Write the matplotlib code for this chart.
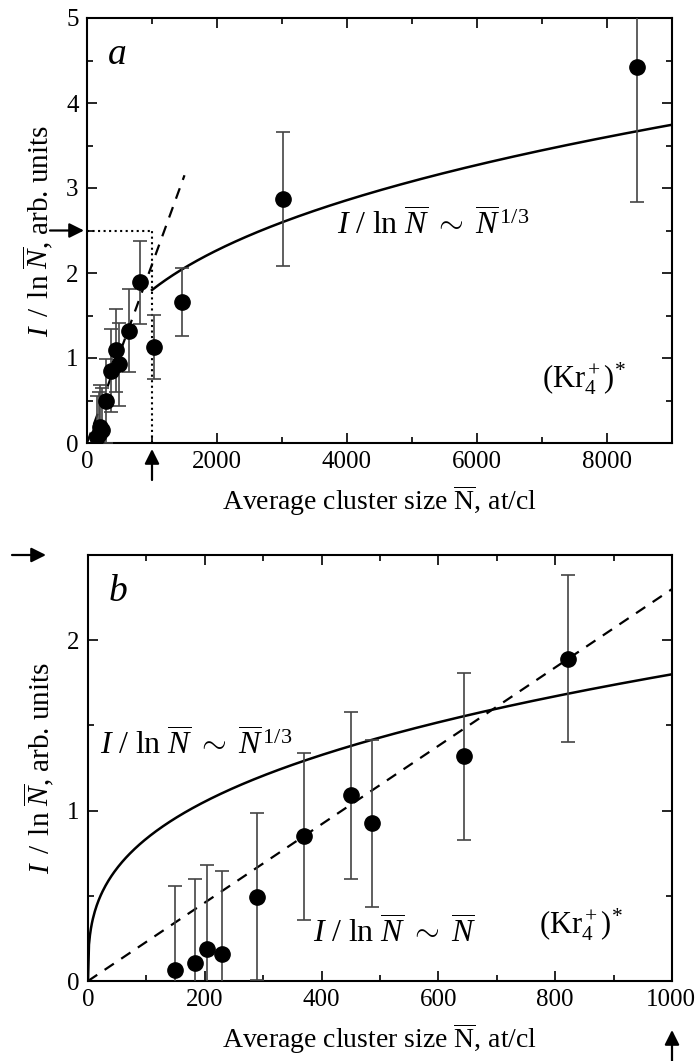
import numpy as np
import matplotlib
matplotlib.use("Agg")
import matplotlib.pyplot as plt
from matplotlib.ticker import MultipleLocator
import matplotlib.transforms as mtransforms

plt.rcParams['font.family'] = ['Liberation Serif', 'DejaVu Serif']
plt.rcParams['mathtext.fontset'] = 'custom'
plt.rcParams['mathtext.rm'] = 'Liberation Serif'
plt.rcParams['mathtext.it'] = 'Liberation Serif:italic'
plt.rcParams['mathtext.bf'] = 'Liberation Serif:bold'

# ---- data ----
size_small = [149, 183, 203, 229, 289, 370, 451, 486, 644, 822]
signal_small = [0.065, 0.107, 0.19, 0.156, 0.494, 0.85, 1.09, 0.925, 1.32, 1.89]
err_small = [0.49, 0.49, 0.49, 0.49, 0.49, 0.49, 0.49, 0.49, 0.49, 0.49]

size_large = [1030, 1460, 3010, 8460]
signal_large = [1.13, 1.66, 2.87, 4.42]
err_large = [0.38, 0.40, 0.79, 1.58]

cube_coef = 0.18        # I/lnN ~ c * N^(1/3)
lin_slope_a = 0.0021    # dashed line, panel a
lin_slope_b = 0.0023    # dashed line, panel b
mark_level = 2.5
mark_size = 1000

W, H = 696, 1061
fig = plt.figure(figsize=(W / 100, H / 100), dpi=100)

def px_axes(l, t, r, b):
    return fig.add_axes([l / W, 1 - b / H, (r - l) / W, (b - t) / H])

ax_a = px_axes(87, 18, 672, 443)
ax_b = px_axes(88, 555, 672, 981)

ylab = r"$I\ \,/\ \,\mathrm{ln}\ \overline{N}$, arb. units"
xlab = r"Average cluster size $\overline{\mathrm{N}}$, at/cl"
cube_txt = r"$I\ /\ \mathrm{ln}\ \overline{N}\ \sim\ \overline{N}^{\,1/3}$"
lin_txt = r"$I\ /\ \mathrm{ln}\ \overline{N}\ \sim\ \overline{N}$"
kr_txt = r"$(\mathrm{Kr}_4^+)^{\!*}$"

eb_kw = dict(fmt='o', color='black', ms=11, ecolor='#444444', elinewidth=1.2,
             capsize=5, capthick=1.2, zorder=3)

for ax in (ax_a, ax_b):
    ax.tick_params(which='both', direction='in', top=True, right=True,
                   labelsize=18, width=1.2, pad=6)
    ax.tick_params(which='major', length=7)
    ax.tick_params(which='minor', length=4)
    for s in ax.spines.values():
        s.set_linewidth(1.5)
    ax.set_ylabel(ylab, fontsize=21, labelpad=8)

# ---- panel a ----
all_x = size_small + size_large
all_y = signal_small + signal_large
all_e = err_small + err_large
ax_a.errorbar(all_x, all_y, yerr=all_e, **eb_kw)
xs = np.linspace(mark_size, 9000, 300)
ax_a.plot(xs, cube_coef * np.cbrt(xs), color='black', lw=1.8)
xd = np.linspace(0, 1500, 50)
ax_a.plot(xd, lin_slope_a * xd, color='black', lw=1.6, ls=(0, (5, 4)))
ax_a.plot([0, mark_size], [mark_level, mark_level], color='black', lw=1.5, ls=':')
ax_a.plot([mark_size, mark_size], [0, mark_level], color='black', lw=1.5, ls=':')
ax_a.set_xlim(0, 9000)
ax_a.set_ylim(0, 5)
ax_a.xaxis.set_major_locator(MultipleLocator(2000))
ax_a.xaxis.set_minor_locator(MultipleLocator(1000))
ax_a.yaxis.set_major_locator(MultipleLocator(1))
ax_a.yaxis.set_minor_locator(MultipleLocator(0.5))
ax_a.set_xlabel(xlab, fontsize=20, labelpad=7)
ax_a.text(0.035, 0.955, "a", transform=ax_a.transAxes, fontsize=27,
          style='italic', va='top', ha='left')
ax_a.text(3850, 2.56, cube_txt, fontsize=23, va='center', ha='left')
ax_a.text(7000, 0.76, kr_txt, fontsize=22, va='center', ha='left')

arrow_kw = dict(arrowstyle='-|>', color='black', lw=1.6, mutation_scale=22,
                shrinkA=0, shrinkB=0)
tr_a_y = mtransforms.blended_transform_factory(fig.transFigure, ax_a.transData)
ax_a.annotate("", xy=(84 / W, mark_level), xycoords=tr_a_y,
              xytext=(50 / W, mark_level), textcoords=tr_a_y,
              arrowprops=arrow_kw, annotation_clip=False)
tr_a_x = mtransforms.blended_transform_factory(ax_a.transData, fig.transFigure)
ax_a.annotate("", xy=(mark_size, 1 - 449 / H), xycoords=tr_a_x,
              xytext=(mark_size, 1 - 480 / H), textcoords=tr_a_x,
              arrowprops=arrow_kw, annotation_clip=False)

# ---- panel b ----
ax_b.errorbar(size_small, signal_small, yerr=err_small, **eb_kw)
xs_b = np.linspace(0, 1000, 600)
ax_b.plot(xs_b, cube_coef * np.cbrt(xs_b), color='black', lw=1.8)
ax_b.plot(xs_b, lin_slope_b * xs_b, color='black', lw=1.6, ls=(0, (5, 4)))
ax_b.set_xlim(0, 1000)
ax_b.set_ylim(0, 2.5)
ax_b.xaxis.set_major_locator(MultipleLocator(200))
ax_b.xaxis.set_minor_locator(MultipleLocator(100))
ax_b.yaxis.set_major_locator(MultipleLocator(1))
ax_b.yaxis.set_minor_locator(MultipleLocator(0.5))
ax_b.set_xlabel(xlab, fontsize=20, labelpad=7)
ax_b.text(0.035, 0.955, "b", transform=ax_b.transAxes, fontsize=27,
          style='italic', va='top', ha='left')
ax_b.text(20, 1.38, cube_txt, fontsize=23, va='center', ha='left')
ax_b.text(385, 0.28, lin_txt, fontsize=23, va='center', ha='left')
ax_b.text(772, 0.33, kr_txt, fontsize=22, va='center', ha='left')

tr_b_y = mtransforms.blended_transform_factory(fig.transFigure, ax_b.transData)
ax_b.annotate("", xy=(46 / W, mark_level), xycoords=tr_b_y,
              xytext=(12 / W, mark_level), textcoords=tr_b_y,
              arrowprops=arrow_kw, annotation_clip=False)
tr_b_x = mtransforms.blended_transform_factory(ax_b.transData, fig.transFigure)
ax_b.annotate("", xy=(mark_size, 1 - 1030 / H), xycoords=tr_b_x,
              xytext=(mark_size, 1 - 1061 / H), textcoords=tr_b_x,
              arrowprops=arrow_kw, annotation_clip=False)

# nudge the last tick label of panel b slightly left so it stays inside
fig.canvas.draw()
for tick in ax_b.xaxis.get_major_ticks():
    if abs(tick.get_loc() - 1000) < 1e-6:
        tick.label1.set_horizontalalignment('right')
        tick.label1.set_x(1000)
        tick.label1.set_transform(tick.label1.get_transform() +
                                  mtransforms.ScaledTranslation(24 / 100, 0, fig.dpi_scale_trans))

fig.savefig("out.png", dpi=100)
